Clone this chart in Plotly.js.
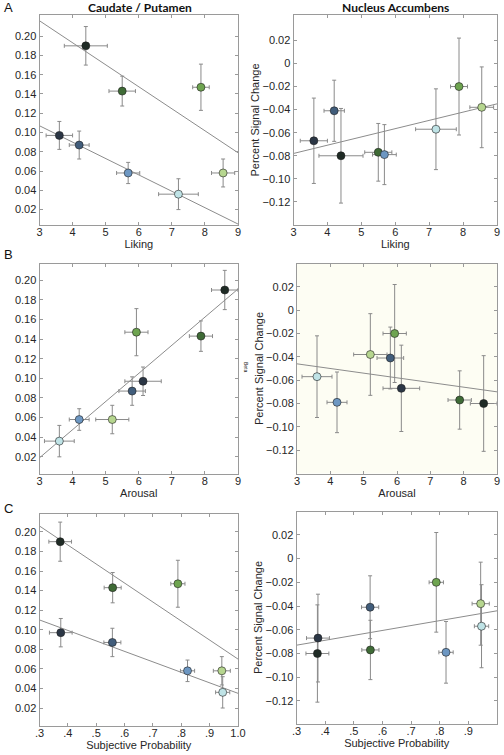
<!DOCTYPE html>
<html>
<head>
<meta charset="utf-8">
<script src="https://cdn.plot.ly/plotly-3.0.1.min.js"></script>
<style>html,body{margin:0;padding:0;background:#fff;}#chart{width:504px;height:755px;}</style>
</head>
<body>
<div id="chart"></div>
<script>
// Conditions order: black, darkGreen, medGreen, lightGreen, navy, slate, steel, cyan
const conditionColors = ['#1f2b25', '#3f6b36', '#6ea450', '#b6d68f', '#2b3645', '#415d7b', '#6d97c2', '#bfe3e6'];

const likingX     = [4.4, 5.5, 7.88, 8.55, 3.6, 4.2, 5.68, 7.2];
const likingXErr  = [0.65, 0.4, 0.25, 0.35, 0.4, 0.3, 0.35, 0.6];
const arousalX    = [8.6, 7.88, 5.93, 5.2, 6.13, 5.8, 4.2, 3.6];
const arousalXErr = [0.4, 0.35, 0.35, 0.5, 0.55, 0.4, 0.3, 0.45];
const probX       = [0.373, 0.558, 0.788, 0.943, 0.375, 0.557, 0.822, 0.946];
const probXErr    = [0.04, 0.03, 0.025, 0.03, 0.04, 0.03, 0.025, 0.025];

const caudateY    = [0.190, 0.143, 0.147, 0.058, 0.097, 0.087, 0.058, 0.036];
const caudateYErr = [0.020, 0.0155, 0.024, 0.0145, 0.0145, 0.0145, 0.011, 0.016];
const naccY       = [-0.080, -0.077, -0.020, -0.038, -0.067, -0.041, -0.079, -0.057];
const naccYErr    = [0.041, 0.025, 0.042, 0.035, 0.037, 0.0265, 0.026, 0.035];

// Regression lines (end points)
const ratingFitX = [3, 9];
const probFitX = [0.3, 1.0];
const caudLikingFitUpper = [0.216, 0.079];
const caudLikingFitLower = [0.107, 0.005];
const naccLikingFit = [-0.078, -0.035];
const caudArousalFit = [0.019, 0.191];
const naccArousalFit = [-0.046, -0.070];
const caudProbFitUpper = [0.206, 0.070];
const caudProbFitLower = [0.110, 0.035];
const naccProbFit = [-0.073, -0.044];

const caudTickVals = [0.02,0.04,0.06,0.08,0.10,0.12,0.14,0.16,0.18,0.20];
const caudTickText = ['0.02','0.04','0.06','0.08','0.10','0.12','0.14','0.16','0.18','0.20'];
const naccTickVals = [0.02,0,-0.02,-0.04,-0.06,-0.08,-0.10,-0.12];
const naccTickText = ['0.02','0','\u22120.02','\u22120.04','\u22120.06','\u22120.08','\u22120.10','\u22120.12'];
const ratingTickVals = [3,4,5,6,7,8,9];
const ratingTickText = ['3','4','5','6','7','8','9'];
const probTickVals = [0.3,0.4,0.5,0.6,0.7,0.8,0.9,1.0];
const probTickText = ['.3','.4','.5','.6','.7','.8','.9','1.0'];

const FONT = 'Liberation Sans, Arial, sans-serif';
const TXT = '#262626';
const lineStyle = {color: '#8c8c8c', width: 1};
const errStyle = {color: '#8a8a8a', thickness: 1, width: 2};

function pts(x, xe, y, ye, xa, ya) {
  return {
    type: 'scatter', mode: 'markers', x: x, y: y, xaxis: xa, yaxis: ya,
    error_x: Object.assign({type: 'data', array: xe, visible: true}, errStyle),
    error_y: Object.assign({type: 'data', array: ye, visible: true}, errStyle),
    marker: {size: 8, color: conditionColors, line: {color: 'rgba(30,30,30,0.85)', width: 0.7}},
    hoverinfo: 'x+y', showlegend: false
  };
}
function fit(x, y, xa, ya) {
  return {type: 'scatter', mode: 'lines', x: x, y: y, xaxis: xa, yaxis: ya, line: lineStyle, hoverinfo: 'skip', showlegend: false};
}

const data = [
  fit(ratingFitX, caudLikingFitUpper, 'x', 'y'),
  fit(ratingFitX, caudLikingFitLower, 'x', 'y'),
  pts(likingX, likingXErr, caudateY, caudateYErr, 'x', 'y'),
  fit(ratingFitX, naccLikingFit, 'x2', 'y2'),
  pts(likingX, likingXErr, naccY, naccYErr, 'x2', 'y2'),
  fit(ratingFitX, caudArousalFit, 'x3', 'y3'),
  pts(arousalX, arousalXErr, caudateY, caudateYErr, 'x3', 'y3'),
  fit(ratingFitX, naccArousalFit, 'x4', 'y4'),
  pts(arousalX, arousalXErr, naccY, naccYErr, 'x4', 'y4'),
  fit(probFitX, caudProbFitUpper, 'x5', 'y5'),
  fit(probFitX, caudProbFitLower, 'x5', 'y5'),
  pts(probX, probXErr, caudateY, caudateYErr, 'x5', 'y5'),
  fit(probFitX, naccProbFit, 'x6', 'y6'),
  pts(probX, probXErr, naccY, naccYErr, 'x6', 'y6')
];

const W = 504, H = 755;
function xd(l, r) { return [l / W, r / W]; }
function yd(t, b) { return [1 - b / H, 1 - t / H]; }

function baseAxis(extra) {
  return Object.assign({
    showline: true, linecolor: '#9a9a9a', linewidth: 1, mirror: 'ticks',
    ticks: 'inside', ticklen: 3, tickcolor: '#9a9a9a', showgrid: false, zeroline: false,
    tickfont: {family: FONT, size: 11, color: TXT}, automargin: false, fixedrange: true
  }, extra);
}
function xAxis(domain, anchor, vals, text, range, title) {
  return baseAxis({domain: domain, anchor: anchor, range: range, tickvals: vals, ticktext: text,
    ticklabelstandoff: -3,
    title: {text: title, font: {family: FONT, size: 11, color: TXT}, standoff: 3}});
}
function yAxis(domain, anchor, vals, text, range, title) {
  return baseAxis({domain: domain, anchor: anchor, range: range, tickvals: vals, ticktext: text,
    title: {text: title, font: {family: FONT, size: 11, color: TXT}, standoff: 0}});
}

function ann(text, px, py, size, family, extra) {
  return Object.assign({text: text, x: px / W, y: 1 - py / H, xref: 'paper', yref: 'paper', showarrow: false,
    xanchor: 'center', yanchor: 'middle', font: {family: family, size: size, color: '#111'}}, extra || {});
}

const layout = {
  width: W, height: H, margin: {l: 0, r: 0, t: 0, b: 0},
  paper_bgcolor: '#fff', plot_bgcolor: 'rgba(0,0,0,0)', showlegend: false,
  font: {family: FONT, size: 11, color: TXT},
  xaxis:  xAxis(xd(39.5, 238), 'y',  ratingTickVals, ratingTickText, [3, 9], 'Liking'),
  yaxis:  yAxis(yd(15, 225), 'x',  caudTickVals, caudTickText, [0.004, 0.222], ''),
  xaxis2: xAxis(xd(293.5, 497), 'y2', ratingTickVals, ratingTickText, [3, 9], 'Liking'),
  yaxis2: yAxis(yd(15, 225), 'x2', naccTickVals, naccTickText, [-0.14, 0.042], 'Percent Signal Change'),
  xaxis3: xAxis(xd(39.5, 238), 'y3', ratingTickVals, ratingTickText, [3, 9], 'Arousal'),
  yaxis3: yAxis(yd(263.5, 473.5), 'x3', caudTickVals, caudTickText, [0.003, 0.217], ''),
  xaxis4: xAxis(xd(297, 497), 'y4', ratingTickVals, ratingTickText, [3, 9], 'Arousal'),
  yaxis4: yAxis(yd(263.5, 473.5), 'x4', naccTickVals, naccTickText, [-0.14, 0.04], 'Percent Signal Change'),
  xaxis5: xAxis(xd(39.5, 238), 'y5', probTickVals, probTickText, [0.3, 1.0], 'Subjective Probability'),
  yaxis5: yAxis(yd(513.5, 726), 'x5', caudTickVals, caudTickText, [0.0016, 0.2188], ''),
  xaxis6: xAxis(xd(296.5, 497), 'y6', probTickVals, probTickText, [0.3, 1.0], 'Subjective Probability'),
  yaxis6: yAxis(yd(511.5, 723.5), 'x6', naccTickVals, naccTickText, [-0.139, 0.0397], 'Percent Signal Change'),
  shapes: [
    {type: 'rect', xref: 'x4 domain', yref: 'y4 domain', x0: 0, x1: 1, y0: 0, y1: 1,
     fillcolor: '#fdfdf3', line: {width: 0}, layer: 'below'}
  ],
  annotations: [
    ann('<b>Caudate / Putamen</b>', 140, 7, 12, 'Lato, Open Sans, sans-serif'),
    ann('<b>Nucleus Accumbens</b>', 395, 7, 12, 'Lato, Open Sans, sans-serif'),
    ann('A', 8, 8, 13, FONT),
    ann('B', 8, 255, 13, FONT),
    ann('C', 8, 508, 13, FONT),
    ann('Beta', 246, 367, 5, FONT, {textangle: 90})
  ]
};

Plotly.newPlot('chart', data, layout, {displayModeBar: false, staticPlot: true});
</script>
</body>
</html>
